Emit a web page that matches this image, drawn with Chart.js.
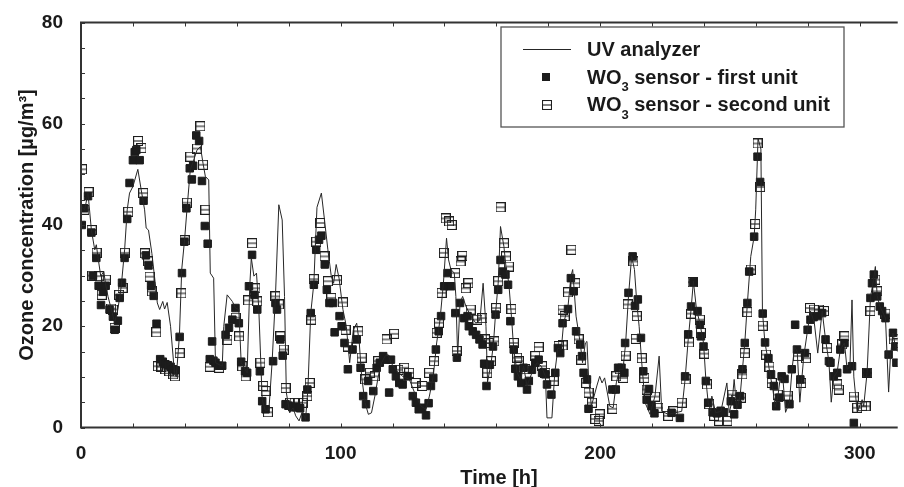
<!DOCTYPE html>
<html>
<head>
<meta charset="utf-8">
<script src="https://cdn.jsdelivr.net/npm/chart.js@4.4.1/dist/chart.umd.min.js"></script>
<style>
  body { margin: 0; background: #fff; }
  canvas { display: block; }
</style>
</head>
<body>
<canvas id="grafica" width="904" height="487"></canvas>
<script>
// UV analyzer (reference line)
const uvHours = [0.1,1.4,2.7,4,5.3,5.9,6.5,7.6,8.8,9.4,10.4,11.7,13,14.2,15.5,16.8,17.8,18.7,20,21.9,23.2,24.5,25.1,26,27.3,28.3,29.4,30.3,31.5,32.2,33.2,34.5,36,36.7,37.9,38.8,39.9,
  40.9,42.1,43.4,44.7,46,47,47.9,49.2,49.8,51.1,51.8,54.4,55,56.3,58.3,59.5,60.8,61.7,64,65,65.6,66.6,67.6,68.5,69.8,71.1,72.4,73.6,74.9,76.2,77.5,78.4,79.1,
  80.4,81.7,82.7,84,85.3,86.5,87.4,88.5,89.7,90.2,90.9,92.6,93.8,95.1,96.4,97.3,98.3,99.4,100.9,102.2,103.5,104.9,106.2,107.2,108.1,109.4,110.7,111.9,113.2,114.5,115.8,117.1,118.3,
  119.4,121.3,123.9,126.5,129,131,132.9,134.2,135.7,137,138.3,139.6,140.8,141.6,142.5,143.8,144.4,145.1,146,147,148.3,150.2,152.1,153.7,154.9,156,156.6,158,158.9,159.7,
  160.7,161.6,162.9,163.7,164.8,165.8,166.7,168,169.3,170.5,171.8,173.7,175.7,177.3,178.9,179.5,181.4,182.5,183.7,185,185.9,187.6,188.7,189.4,190.7,192.3,193.2,194.3,194.9,195.5,196.6,198.7,
  199.8,200.7,201.7,203.7,205,206.2,207.5,208.8,209.8,210.9,212.1,213.2,214.1,215,216,217.3,219.2,221.1,222.7,223.7,226.2,228.8,231.4,232.7,233.9,235,235.9,237.1,238.4,
  239.8,240.7,241.6,242.6,243,244.5,246.5,248.8,249.7,250.9,251.6,252.6,253.9,254.8,255.7,256.7,258,259.3,259.9,260.8,261.9,262.5,263.4,264.4,265.4,266.4,267.4,268.4,269.4,270.4,271.4,272.9,273.9,274.9,275.9,276.9,278.4,279.9,
  281,282.5,283.8,285.5,286.8,288.1,289,290,291.3,292.5,294.1,295.1,296.2,297,297.7,299,300.9,301.5,302.8,304.1,305.2,306,306.7,307.7,308.6,309.9,311.1,311.8,312.8,313.7,314.5];
const uvOzone = [43.6,43,46.3,39,35.1,36.1,33.8,29.9,30.8,28.5,25.9,23.3,20.7,23.3,27.9,35.1,43,46.3,47.6,51,46.9,43,39.4,39,34.4,29.9,24.6,23.3,24.9,23.4,24.7,20,10.8,10,18,31.2,37.1,
  43.6,50.9,52.8,54.8,55.5,52.2,49.6,48.9,30.5,29.5,12.8,12.1,20,26.2,24.9,23.6,23.3,12.8,10.8,27.9,33.5,29.9,30.5,23.3,5.5,3.2,3.6,12.8,25.9,44,41,25.9,6.9,
  2.9,3.9,2.3,1.3,3.2,1.6,7.5,22.6,28.5,35,43.5,46.3,41,35.1,29.9,28.5,32.2,29.5,23.3,20,12.8,19.3,20.6,16.7,10.1,4.9,2.6,2.9,6.2,10.1,12.8,14.1,14.4,
  12.8,11.4,10.1,9.5,6.2,4.2,3.6,6.2,10.1,16.7,21.3,28.5,37.4,33.1,31.2,30.5,25.9,14.1,24.6,25.9,23.9,22,20.6,21.3,28.5,20,9,12.8,16.7,22.6,
  28.5,39.7,35.8,31.8,28.5,22,15.4,10.8,9.5,12.1,8.2,10.8,12.8,12.1,10.1,1.9,1.9,10.8,15.7,15.4,20.6,23.9,29.8,31.2,22,16.7,12.8,16.7,17,10.1,4.2,8.2,
  10.1,8.8,9.8,4.2,3.9,8.8,11.5,11.5,16.7,25.9,33.8,31.2,24.6,20,12.8,4.9,2.6,6.2,14.1,3.2,2.6,2.9,3.2,9.5,17.4,23.3,28.9,23.3,20.6,
  16.7,9.5,4.9,3.2,6.2,2.9,3.2,8.8,2.9,5.5,9.5,3.6,6.2,11.5,16.7,24.6,33.8,37.7,43,57.1,55,23,17,14,10.5,8,4,6,10,9.5,3,5,11.5,16,15,5,14,19.3,
  23,20.6,14.7,23,17.4,13,5,10,11,15.4,16.7,11.5,12,25.2,10,3,5.5,4.2,10.8,25.6,29,31.8,26,24,23,21.6,7,14,18.7,16,15];

// WO3 sensor - first unit
const firstHours = [0.3,1.2,2.7,4,4.6,5.9,6.8,7.7,8.5,9.5,11,12.3,13,14.2,14.9,15.8,16.8,17.8,18.7,20,20.7,21.3,22.6,24.1,25,26,27,28,29.1,30.5,31.5,32.5,33.5,34.5,35.5,36.5,38,38.9,
  39.8,40.6,41.9,42.7,43.2,44.4,45.5,46.6,47.7,48.8,49.6,50.5,51,51.8,53.1,54.4,55.7,57,58.3,59.5,60.8,61.7,63.2,64,64.7,65.9,66.8,67.9,68.9,69.8,71.1,74,74.9,75.5,76.8,77.7,78.8,
  79.9,81.4,82.9,84.4,86.5,87.2,88.5,89.7,90.6,91.7,92.6,93.9,94.7,95.7,97.1,97.7,99.6,100.4,101.5,102.8,104.6,106.2,107.7,108.7,109.8,110.6,112.6,113.9,115.1,116.4,117.4,118.7,
  119.4,120.1,121.3,122.6,123.9,125.8,127.8,129,130.1,131.4,132.9,133.9,134.8,135.7,136.7,137.8,138.7,139.9,141.2,142.5,144.2,144.8,146,147.6,148.9,149.4,150.9,152.2,153.5,154.7,155.3,156.2,157.5,158.7,159.7,
  160.7,161.6,162.5,163.5,164.5,165.4,166.7,167.3,168.3,169.6,170.5,171.8,172.5,173.7,175,176.3,177.6,178.9,179.5,181.2,182.7,183.7,184.6,185.5,187.6,188.7,189.8,190.7,192.3,193,193.6,194.9,195.5,
  204.7,206,206.9,208.2,209.3,209.6,210.9,212.5,213.4,214.5,215.7,216.6,217.9,218.8,219.8,220.9,227.5,230.7,232.7,233.9,235,235.9,237.5,238.4,
  238.8,239.8,240.7,241.6,243.3,244.9,246.4,247.7,250.3,251.6,252.9,253.9,254.8,255.7,256.7,257.4,259.3,260.6,261.6,262.6,263.5,264.8,265.8,266.9,267.8,269,269.9,271,272.9,273.8,275.1,275.8,277.1,278.9,279.9,
  281,282.2,283.7,285.5,286.8,288.1,288.7,290,291.3,292.5,294.1,295.1,297,297.7,302.8,304.1,304.7,305.4,306.7,307.7,308.6,309.9,311.1,312.8,313.7,314.1];
const firstOzone = [40,43.3,45.7,38.5,30,33.5,28,24.2,26.8,28,23.3,21.9,19.3,21.1,25.6,28.6,33.5,41.2,48.3,52.8,54.4,54.8,52.8,44.8,34,32,28,26,20.5,13.5,13,12.5,12.3,12,11.5,11.3,17.9,30.5,
  36.7,43.3,51.2,49,51.7,57.7,56.6,48.7,39.8,36.3,13.5,17,13.2,12.8,12.2,12.2,18.3,19.7,21.3,23.6,20.6,13,11.1,10.8,27.9,34.1,26.2,23.3,11.1,5.2,3.6,13.1,24.6,23.3,17.4,14.2,4.6,
  4.3,4,4,3.8,2,7.5,22.6,28.2,35.1,37.1,37.9,32.2,27.2,24.6,24.6,18.8,22,20,16.7,11.5,15.4,17.4,11.8,6.2,4.6,9.2,7.2,11.8,12.8,14.1,13.4,6.9,
  13.4,11.5,10.1,8.8,8.5,10.1,6.2,4.9,3.6,3.9,2.4,4.8,8.2,9.8,15.4,19,22,27.9,30.5,27.9,22.6,13.8,24.6,21.6,22,20,19,18.3,17.4,16.4,12.6,8.2,12.4,16,22.3,
  27.2,33.1,30.8,30.2,28.2,21,15.4,11.6,10.1,8.8,11.8,7.5,9.2,11.4,12.8,13.4,10.8,10.5,8.5,6.5,10.8,15.7,14.7,20.6,23.4,29.5,26.9,19,16.4,14.1,10.8,9.5,3.7,
  7.5,7.5,11.8,11.8,10.8,16.7,26.6,33.8,24,25.3,17.7,11.1,5.5,7.6,4.2,2.8,2.9,1.9,10.1,18.4,23.9,28.7,23,20.3,
  18,16,9.2,4.9,3,2.8,3.3,3,5.2,2.6,4.5,6.2,11.5,16.7,24.6,30.8,37.7,53.5,48.5,22.5,16.8,13.7,10.5,8.2,4.2,5.9,10.1,9.6,4.6,11.5,20.3,15.4,9.5,14.7,19.3,
  21.3,21.8,22,22.6,17.4,13.1,12.8,10.1,10.8,15.4,16.7,11.5,12.1,0.9,10.8,25.6,28.5,30.2,25.9,23.9,23,21.6,14.4,18.7,16,12.8];

// WO3 sensor - second unit
const secondHours = [0.4,1.3,2.9,4.1,4.3,6,7,8,9.6,11.6,12.3,13,14.7,16,16.9,18.2,22,23.3,24,24.6,25.8,26.4,27.3,29,29.6,31,32.5,34,35.5,36.2,38,38.7,39.9,
  40.8,42.1,44.7,46,47,47.9,49.6,53.2,56.4,59.6,60.9,62.1,63.4,64.4,65.9,67.2,67.9,69.1,70.2,71.1,72,74.9,76.2,76.8,78.1,78.8,
  80.6,82.3,83.6,85.5,87.2,88.1,88.7,89.7,90.6,92.2,93.8,95.1,96.4,98.6,100.9,101.9,102.8,106.8,108.1,109.4,111.3,113.2,114.5,117.7,
  120.6,122.3,124.5,126.4,128.9,131.5,134.1,136,137,137.9,138.9,139.8,140.5,141.8,142.8,144.1,144.7,146.2,146.9,148.2,149.2,150.1,152.7,154.6,155.6,156.5,157,157.9,159.2,
  159.9,160.7,161.6,162.9,163.7,164.8,165.8,166.7,168,168.6,171.2,175,176.3,177.6,178.9,182.1,184,185.5,185.5,186.3,187.6,188.9,190.4,191.7,192.7,194.6,195.5,196.8,198.1,199.4,
  199.8,204.7,206.2,207.5,208.9,209.8,210.6,212.8,213.7,214.1,216,217,217.9,221.1,222.4,226.2,228.2,231.4,232.9,234.2,235,235.6,238.4,
  238.8,240.1,241.1,242,243.9,245.8,249,250.9,252.2,254.2,254.8,255.7,256.7,258,259.7,260.6,261.6,262.6,263.9,265.2,266.1,268.4,272.2,276.1,277.4,279.3,
  280.8,282.3,284.2,286.2,287.4,291.3,291.9,293.2,294.1,297.7,299,300.9,302.2,302.8,304.1,306,306.7,309.9,313.1,314.3];
const secondOzone = [51,43,46.5,39,30,34.5,29.9,26.2,29.2,23.5,23.3,19.7,26.2,27.6,34.5,42.6,56.6,55.2,46.3,34.4,32.8,29.8,26.9,18.8,12.1,12,11.5,11.1,10.5,10.1,14.7,26.5,37,
  44.4,53.5,55.1,59.5,51.9,43,12,11.8,17.3,21.7,18,12.1,10.1,25.1,36.4,27.5,24.9,12.8,8.2,7.2,3,25.9,24.3,18,15.4,7.8,
  4.9,4.9,4.9,4.9,6.2,8.8,21.3,29.3,36.7,40.4,33.8,28.9,25.6,29.1,24.7,19.3,16,19,13.8,9.5,10.8,10.1,13.1,17.4,
  18.5,11.4,11.8,10.8,8.8,8.2,10.8,13.1,18.7,20.7,26.6,34.5,41.3,40.7,40,30.5,15.1,32.8,33.9,27.5,28.5,23.3,21.3,21.6,17.4,10.8,16.7,13.1,17,
  23.6,28.9,43.5,36.4,33.8,31.8,23.4,16.7,13.8,13.1,11.5,14.1,15.9,12.1,10.8,9.2,16.1,23.3,16.2,22,26.7,35.1,28.5,17.4,13.4,8.8,6.9,4.9,1.7,1.3,
  2.6,3.7,10.1,11.5,9.8,14.2,24.3,32.8,17.5,22,13.7,9.8,7.5,6.1,3.9,2.3,3.2,4.9,9.5,16.8,22.5,28.7,21.3,
  18.7,14.6,8.5,4.6,2.3,1.3,1.3,6.5,5.5,5.9,10.5,14.7,22.8,31.2,40.2,56.1,47.5,20.1,14.4,12,8.8,6.5,6.3,14.1,8.8,13.7,
  23.6,23.3,23.3,23,15.7,8.5,7.5,16.4,18,6.1,3.9,4.2,4.2,10.8,23,29.2,26.9,22.5,17.4,16.7];

const xTickLabels = [0, 100, 200, 300];
const yTickLabels = [0, 20, 40, 60, 80];
const xMinorStep = 20;
const yMinorStep = 5;

const legendLabels = [
  ['UV analyzer'],
  ['WO', '3', ' sensor - first unit'],
  ['WO', '3', ' sensor - second unit']
];

const tinta = '#1a1a1a';
const fuente = '"Liberation Sans", Arial, Helvetica, sans-serif';

function puntos(hs, vs) {
  return hs.map((h, i) => ({ x: h, y: vs[i] }));
}

// open square with a bar across the middle
function marcaAbierta() {
  const c = document.createElement('canvas');
  c.width = 10;
  c.height = 10;
  const g = c.getContext('2d');
  g.strokeStyle = '#1e1e1e';
  g.lineWidth = 1.1;
  g.strokeRect(0.5, 0.5, 9, 9);
  g.beginPath();
  g.moveTo(0.5, 5);
  g.lineTo(9.5, 5);
  g.stroke();
  return c;
}
const $marca = marcaAbierta();

function textoConSub(ctx, partes, x, y) {
  partes.forEach((p, i) => {
    const sub = i % 2 === 1;
    ctx.font = (sub ? 'bold 13px ' : 'bold 20px ') + fuente;
    ctx.fillText(p, x, sub ? y + 7.5 : y);
    x += ctx.measureText(p).width;
  });
}

const marco = {
  id: 'marco',
  afterDatasetsDraw(chart) {
    const { ctx, chartArea: a, scales: { x, y } } = chart;
    ctx.save();

    // frame
    ctx.strokeStyle = '#333';
    ctx.lineWidth = 2;
    ctx.beginPath();
    ctx.moveTo(a.right, a.top);
    ctx.lineTo(a.left, a.top);
    ctx.lineTo(a.left, a.bottom);
    ctx.lineTo(a.right, a.bottom);
    ctx.stroke();

    // inward ticks
    ctx.lineWidth = 1;
    ctx.beginPath();
    for (let t = 0; t <= x.max; t += xMinorStep) {
      const px = Math.round(x.getPixelForValue(t)) + 0.5;
      ctx.moveTo(px, a.top);
      ctx.lineTo(px, a.top + 4);
      ctx.moveTo(px, a.bottom);
      ctx.lineTo(px, a.bottom - 4);
    }
    for (let v = 0; v <= y.max; v += yMinorStep) {
      const py = Math.round(y.getPixelForValue(v)) + 0.5;
      ctx.moveTo(a.left, py);
      ctx.lineTo(a.left + 4, py);
    }
    ctx.stroke();

    // axis titles
    ctx.fillStyle = tinta;
    ctx.font = 'bold 20px ' + fuente;
    ctx.textAlign = 'center';
    ctx.textBaseline = 'alphabetic';
    ctx.fillText('Time [h]', 499, 484);
    ctx.save();
    ctx.translate(33, (a.top + a.bottom) / 2);
    ctx.rotate(-Math.PI / 2);
    ctx.fillText('Ozone concentration [\u00b5g/m\u00b3]', 0, 0);
    ctx.restore();

    // legend
    ctx.fillStyle = '#fff';
    ctx.fillRect(501, 27, 343, 100);
    ctx.strokeStyle = '#555';
    ctx.lineWidth = 1.3;
    ctx.strokeRect(501, 27, 343, 100);

    ctx.strokeStyle = '#262626';
    ctx.lineWidth = 1;
    ctx.beginPath();
    ctx.moveTo(523, 49.5);
    ctx.lineTo(571, 49.5);
    ctx.stroke();
    ctx.fillStyle = '#1c1c1c';
    ctx.fillRect(542, 73, 8, 8);
    ctx.drawImage($marca, 542, 100);

    ctx.fillStyle = tinta;
    ctx.textAlign = 'left';
    const filas = [56, 83.5, 111];
    legendLabels.forEach((partes, i) => textoConSub(ctx, partes, 587, filas[i]));

    ctx.restore();
  }
};

const $grafica = document.querySelector('#grafica');

new Chart($grafica, {
  type: 'scatter',
  data: {
    datasets: [
      {
        label: 'UV analyzer',
        data: puntos(uvHours, uvOzone),
        showLine: true,
        borderColor: '#262626',
        borderWidth: 1,
        pointRadius: 0,
        tension: 0
      },
      {
        label: 'WO3 sensor - first unit',
        data: puntos(firstHours, firstOzone),
        pointStyle: 'rect',
        pointRadius: 5.3,
        backgroundColor: '#1c1c1c',
        borderColor: '#1c1c1c',
        borderWidth: 1
      },
      {
        label: 'WO3 sensor - second unit',
        data: puntos(secondHours, secondOzone),
        pointStyle: $marca,
        pointRadius: 4
      }
    ]
  },
  options: {
    responsive: false,
    animation: false,
    devicePixelRatio: 1,
    events: [],
    layout: { padding: { top: 22.5, left: 0, right: 0, bottom: 0 } },
    plugins: {
      legend: { display: false },
      tooltip: { enabled: false }
    },
    scales: {
      x: {
        type: 'linear',
        min: 0,
        max: 314.6,
        grid: { display: false },
        border: { display: false },
        afterFit: (s) => { s.height = 59.5; },
        ticks: {
          stepSize: 100,
          includeBounds: false,
          padding: 7,
          color: tinta,
          font: { family: fuente, size: 19, weight: 'bold' },
          callback: (v) => (xTickLabels.includes(v) ? v : '')
        }
      },
      y: {
        min: 0,
        max: 80,
        grid: { display: false },
        border: { display: false },
        afterFit: (s) => { s.width = 81; },
        ticks: {
          stepSize: 20,
          padding: 10,
          color: tinta,
          font: { family: fuente, size: 19, weight: 'bold' },
          callback: (v) => (yTickLabels.includes(v) ? v : '')
        }
      }
    }
  },
  plugins: [marco]
});
</script>
</body>
</html>
